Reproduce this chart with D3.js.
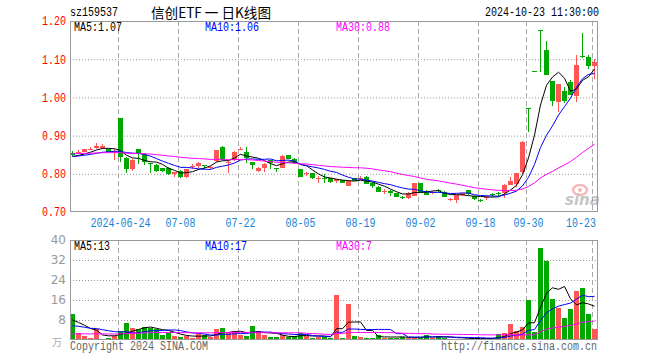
<!DOCTYPE html>
<html>
<head>
<meta charset="utf-8">
<script src="https://cdn.jsdelivr.net/npm/d3@7"></script>
<style>
body{margin:0;background:#fff;}
svg{display:block;}
</style>
</head>
<body>
<svg width="660" height="360"></svg>
<script>
// daily candles, 2024-06-12 .. 2024-10-23
const open = [
 0.855,0.855,0.858,0.864,0.868,0.868,0.864,0.857,0.945,0.842,
 0.812,0.865,0.852,0.827,0.823,0.814,0.816,0.799,0.808,0.791,
 0.818,0.821,0.823,0.815,0.833,0.871,0.829,0.835,0.864,0.858,
 0.830,0.808,0.814,0.836,0.816,0.815,0.848,0.838,0.812,0.799,
 0.801,0.786,0.789,0.788,0.782,0.784,0.769,0.788,0.787,0.792,
 0.776,0.766,0.754,0.756,0.750,0.739,0.736,0.743,0.775,0.756,
 0.750,0.758,0.753,0.732,0.731,0.744,0.757,0.742,0.732,0.736,
 0.748,0.751,0.749,0.771,0.773,0.806,0.971,1.069,1.176,1.124,
 1.043,0.989,1.017,1.041,1.004,1.108,1.106,1.082];
const high = [
 0.860,0.863,0.866,0.870,0.880,0.877,0.866,0.864,0.945,0.845,
 0.838,0.866,0.854,0.829,0.826,0.816,0.818,0.806,0.809,0.813,
 0.825,0.831,0.823,0.820,0.863,0.872,0.836,0.860,0.871,0.870,
 0.831,0.817,0.827,0.837,0.816,0.848,0.849,0.841,0.813,0.806,
 0.803,0.793,0.800,0.789,0.787,0.785,0.783,0.789,0.795,0.794,
 0.778,0.767,0.760,0.757,0.751,0.741,0.752,0.777,0.776,0.757,
 0.756,0.760,0.754,0.737,0.745,0.751,0.758,0.743,0.734,0.742,
 0.749,0.752,0.772,0.792,0.802,0.885,0.971,1.069,1.176,1.148,
 1.044,1.036,1.028,1.045,1.111,1.168,1.110,1.100];
const low = [
 0.846,0.851,0.856,0.861,0.865,0.864,0.856,0.836,0.832,0.803,
 0.808,0.826,0.823,0.803,0.805,0.805,0.796,0.791,0.790,0.790,
 0.813,0.815,0.812,0.812,0.830,0.836,0.803,0.833,0.862,0.827,
 0.812,0.806,0.805,0.812,0.806,0.814,0.838,0.825,0.791,0.793,
 0.787,0.776,0.775,0.776,0.776,0.776,0.767,0.781,0.784,0.772,
 0.764,0.752,0.748,0.743,0.739,0.733,0.735,0.741,0.749,0.744,
 0.746,0.751,0.738,0.728,0.723,0.742,0.744,0.731,0.725,0.732,
 0.740,0.742,0.736,0.770,0.766,0.799,0.910,1.069,1.067,1.058,
 0.978,0.963,0.985,1.005,0.989,1.104,1.074,1.047];
const close = [
 0.850,0.858,0.864,0.866,0.873,0.872,0.858,0.859,0.843,0.812,
 0.836,0.852,0.832,0.826,0.807,0.807,0.800,0.805,0.791,0.812,
 0.820,0.829,0.823,0.819,0.862,0.838,0.831,0.858,0.866,0.841,
 0.823,0.816,0.826,0.827,0.815,0.847,0.840,0.827,0.792,0.801,
 0.790,0.788,0.788,0.778,0.786,0.777,0.782,0.782,0.789,0.773,
 0.767,0.753,0.756,0.750,0.740,0.738,0.751,0.776,0.751,0.745,
 0.752,0.757,0.740,0.734,0.744,0.750,0.746,0.733,0.731,0.738,
 0.747,0.750,0.771,0.781,0.801,0.884,0.971,1.069,1.176,1.059,
 0.991,1.035,0.991,1.005,1.086,1.106,1.082,1.093];
// volume, 万
const volume = [
 10.4,2.7,1.6,0.8,4.4,0.6,1.0,1.6,3.6,6.8,
 4.7,4.3,5.1,5.0,4.3,2.0,2.7,1.6,1.2,1.6,
 0.8,2.4,2.0,1.3,4.3,4.8,2.7,3.7,2.0,1.6,
 5.6,3.7,2.0,1.1,1.1,2.0,1.1,1.6,2.7,1.6,
 1.0,1.3,1.3,1.0,18.0,1.0,14.4,1.6,1.2,1.0,
 1.0,2.0,1.0,1.0,1.0,1.3,1.0,1.0,1.0,2.0,
 1.0,1.6,1.0,0.6,0.6,0.6,0.6,0.6,0.6,0.6,
 0.6,2.4,2.7,6.4,3.7,5.3,16.0,3.3,37.0,31.7,
 16.4,13.0,8.9,12.4,19.6,20.8,10.4,4.4];

const tickIdx = [8, 18, 28, 38, 48, 58, 68, 76, 87];
const tickLabels = ["2024-06-24","07-08","07-22","08-05","08-19","09-02","09-18","09-30","10-23"];
const priceTicks = [0.70, 0.80, 0.90, 1.00, 1.10, 1.20];
const volTicks = [8, 16, 24, 32, 40];
const maDays = [5, 10, 30];
const maColors = ["#000000", "#0000ff", "#ff00ff"];
const priceSeed = [0.844, 0.845, 0.853];
const volSeed = [7.4, 5.2, 2.2];

const RED = "#ff5555", GREEN = "#00a800";
const MONO = "'Liberation Mono','DejaVu Sans Mono',monospace";

function movingAvg(values, n, seed){
    return values.map((v, i) => {
        let sum = 0;
        for (let k = i - n + 1; k <= i; k++) sum += k < 0 ? seed : values[k];
        return sum / n;
    });
}

// mono text squeezed to 6px per char, like the bitmap font of the original
function monoText(g, x, y, str, color, anchor){
    return g.append("text")
        .attr("x", x).attr("y", y)
        .attr("fill", color)
        .attr("text-anchor", anchor || "start")
        .attr("font-family", MONO)
        .attr("font-size", 12)
        .attr("textLength", str.length * 6)
        .attr("lengthAdjust", "spacingAndGlyphs")
        .text(str);
}

const svg = d3.select("svg");
svg.append("rect").attr("width", 660).attr("height", 360).attr("fill", "#fff");

const left = 70, right = 598;
const pTop = 21, pBot = 212, vTop = 240, vBot = 340;

const idx = d3.range(close.length);
const x = d3.scaleBand().domain(idx).range([left - 0.5, right - 0.5]).paddingInner(1/6).paddingOuter(1/12);
const cx = i => x(i) + x.bandwidth() / 2;
const py = d3.scaleLinear().domain([0.70, 1.20]).range([pBot, pTop]);
const vy = d3.scaleLinear().domain([0, 40]).range([vBot, vTop]);
const colorOf = i => close[i] > open[i] ? RED : GREEN;

const priceMA = maDays.map((n, k) => movingAvg(close, n, priceSeed[k]));
const volMA = maDays.map((n, k) => movingAvg(volume, n, volSeed[k]));

// clip paths
const defs = svg.append("defs");
defs.append("clipPath").attr("id", "clipP").append("rect")
    .attr("x", left).attr("y", pTop).attr("width", right - left).attr("height", pBot - pTop);
defs.append("clipPath").attr("id", "clipV").append("rect")
    .attr("x", left).attr("y", vTop).attr("width", right - left).attr("height", vBot - vTop);

// header
monoText(svg, 70, 16, "sz159537", "#000");
svg.append("text")
    .attr("x", 151).attr("y", 18)
    .attr("font-family", "'Noto Sans CJK SC',sans-serif")
    .attr("font-size", 14)
    .attr("textLength", 120)
    .attr("lengthAdjust", "spacingAndGlyphs")
    .text("信创ETF 一 日K线图");
monoText(svg, 599, 16, "2024-10-23 11:30:00", "#000", "end");

// ---- grids ----
function panelGrid(yScale, values, top, bottom){
    const g = svg.append("g").attr("transform", `translate(${left},0)`);
    g.call(d3.axisLeft(yScale).tickValues(values).tickSize(-(right - left)).tickFormat(""));
    g.select(".domain").remove();
    g.selectAll(".tick line").attr("stroke", "#999").attr("stroke-dasharray", "1,2");

    const v = svg.append("g");
    v.selectAll("line").data(tickIdx).join("line")
        .attr("x1", i => x(i) + 0.5).attr("x2", i => x(i) + 0.5)
        .attr("y1", top).attr("y2", bottom)
        .attr("stroke", "#aaa")
        .attr("stroke-dasharray", "5,3");
}
panelGrid(py, [0.80, 0.90, 1.00, 1.10], pTop, pBot);
panelGrid(vy, [8, 16, 24, 32], vTop, vBot);

// price labels
const pAxis = svg.append("g").attr("transform", `translate(${left},0)`)
    .call(d3.axisLeft(py).tickValues(priceTicks).tickSize(0).tickPadding(4).tickFormat(d3.format(".2f")));
pAxis.select(".domain").remove();
pAxis.selectAll("text")
    .attr("fill", "#ff0000")
    .attr("font-family", MONO).attr("font-size", 12)
    .attr("textLength", 24).attr("lengthAdjust", "spacingAndGlyphs");

// volume labels
const vAxis = svg.append("g").attr("transform", `translate(${left},0)`)
    .call(d3.axisLeft(vy).tickValues(volTicks).tickSize(0).tickPadding(4));
vAxis.select(".domain").remove();
vAxis.selectAll("text")
    .attr("fill", "#999")
    .attr("font-family", "'DejaVu Sans',sans-serif").attr("font-size", 12);

// date labels
const xAxis = svg.append("g").attr("transform", `translate(0,${pBot + 2})`)
    .call(d3.axisBottom(x).tickValues(tickIdx).tickSize(0).tickPadding(4).tickFormat((d, k) => tickLabels[k]));
xAxis.select(".domain").remove();
xAxis.selectAll("text")
    .attr("fill", "#1385d5")
    .attr("font-family", MONO).attr("font-size", 12)
    .attr("textLength", (d, k) => tickLabels[k].length * 6)
    .attr("lengthAdjust", "spacingAndGlyphs");
xAxis.selectAll(".tick").filter(d => d === tickIdx[tickIdx.length - 1]).select("text")
    .attr("text-anchor", "end").attr("x", right - 2 - cx(tickIdx[tickIdx.length - 1]));

// sina watermark
const wm = svg.append("g").attr("opacity", 0.55);
wm.append("ellipse").attr("cx", 580).attr("cy", 190).attr("rx", 7).attr("ry", 5)
    .attr("fill", "none").attr("stroke", "#f08080").attr("stroke-width", 2.5);
wm.append("circle").attr("cx", 580).attr("cy", 190).attr("r", 2).attr("fill", "#f08080");
wm.append("text").attr("x", 565).attr("y", 205)
    .attr("font-family", "'DejaVu Sans',sans-serif").attr("font-size", 15)
    .attr("font-weight", "bold").attr("font-style", "italic")
    .attr("fill", "#999").text("sina");

// ---- candles ----
const gC = svg.append("g").attr("clip-path", "url(#clipP)").attr("shape-rendering", "crispEdges");
const candle = gC.selectAll("g").data(idx).join("g");
candle.append("line")
    .attr("x1", cx).attr("x2", cx)
    .attr("y1", i => py(high[i])).attr("y2", i => py(low[i]))
    .attr("stroke", colorOf);
candle.append("rect")
    .attr("x", i => x(i))
    .attr("width", x.bandwidth())
    .attr("y", i => py(Math.max(open[i], close[i])))
    .attr("height", i => Math.max(1, Math.abs(py(open[i]) - py(close[i]))))
    .attr("fill", colorOf);

// ---- volume bars ----
const gV = svg.append("g").attr("clip-path", "url(#clipV)").attr("shape-rendering", "crispEdges");
gV.selectAll("rect").data(idx).join("rect")
    .attr("x", i => x(i))
    .attr("width", x.bandwidth())
    .attr("y", i => vy(volume[i]))
    .attr("height", i => vy(0) - vy(volume[i]))
    .attr("fill", colorOf);

// ---- MA lines ----
function drawMA(series, yScale, clip){
    const g = svg.append("g").attr("clip-path", clip);
    series.forEach((vals, k) => {
        g.append("path")
            .datum(vals)
            .attr("fill", "none")
            .attr("stroke", maColors[k])
            .attr("stroke-width", 1)
            .attr("d", d3.line().x((d, i) => cx(i)).y(d => yScale(d)));
    });
}
drawMA(priceMA, py, "url(#clipP)");
drawMA(volMA, vy, "url(#clipV)");

// frames
[[pTop, pBot], [vTop, vBot]].forEach(([t, b]) => {
    svg.append("rect")
        .attr("x", left + 0.5).attr("y", t + 0.5)
        .attr("width", right - left - 1).attr("height", b - t - 1)
        .attr("fill", "none").attr("stroke", "#999");
});

// legends
const legX = [74, 205, 336];
maDays.forEach((n, k) => {
    const last = priceMA[k][priceMA[k].length - 1];
    monoText(svg, legX[k], 31, `MA${n}:${last.toFixed(2)}`, maColors[k]);
    const lastV = volMA[k][volMA[k].length - 1];
    monoText(svg, legX[k], 250, `MA${n}:${Math.floor(lastV)}`, maColors[k]);
});

// footer
svg.append("text").attr("x", 52).attr("y", 346)
    .attr("font-family", "'Noto Sans CJK SC',sans-serif").attr("font-size", 10)
    .attr("fill", "#aaa").text("万");
monoText(svg, 70, 350, "Copyright 2024 SINA.COM", "#666");
monoText(svg, 597, 350, "http://finance.sina.com.cn", "#666", "end");
</script>
</body>
</html>
